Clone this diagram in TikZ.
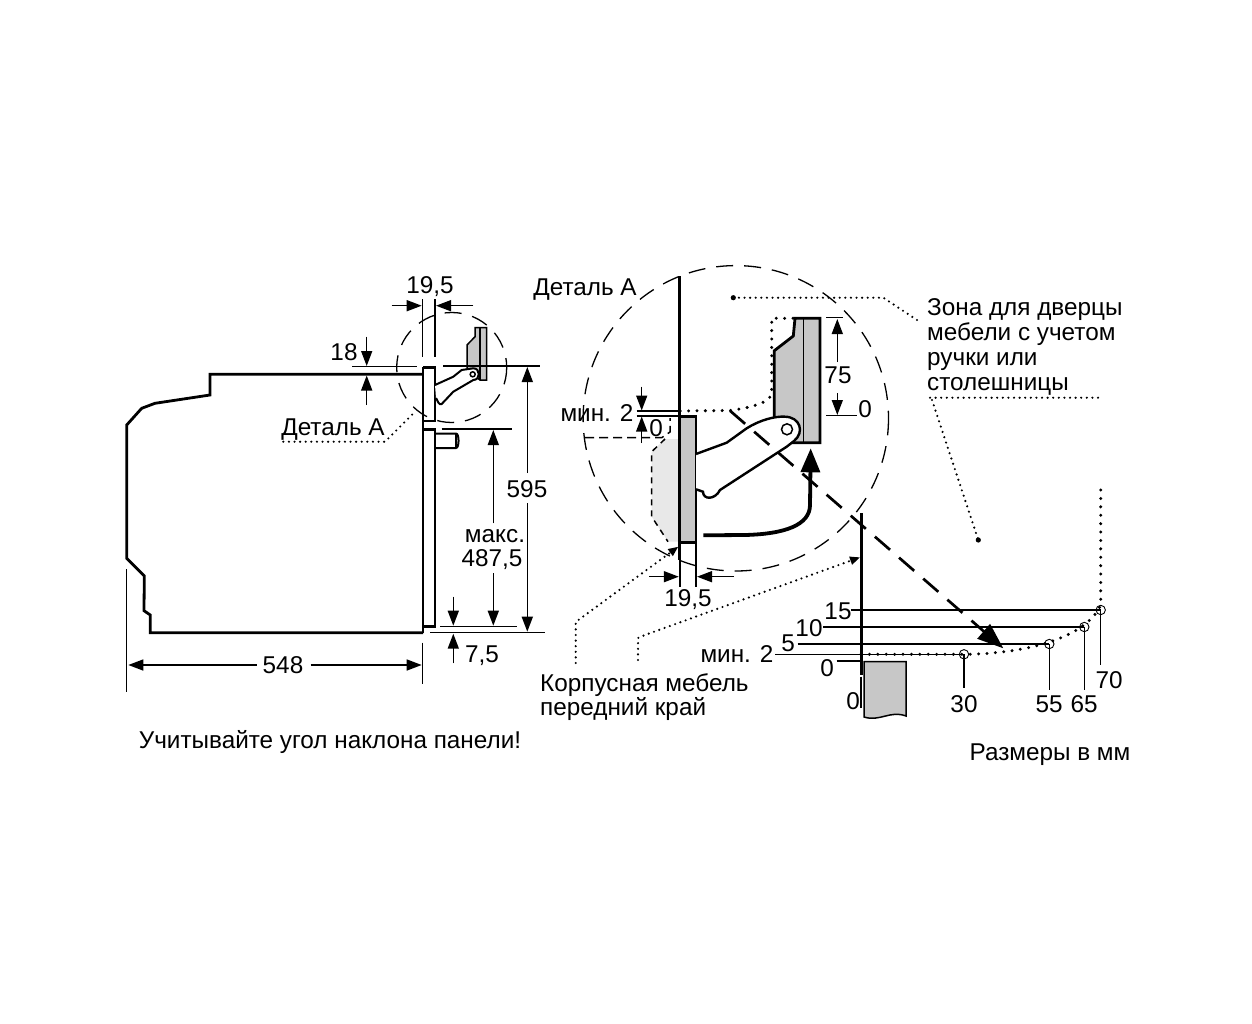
\documentclass[tikz,border=0pt]{standalone}
\usepackage{fontspec}
\setmainfont{Liberation Sans}
\usetikzlibrary{arrows.meta}
\begin{document}
\begin{tikzpicture}[
	x=1pt,
	y=-1pt,
	font=\fontsize{24.3}{28}\selectfont
]
\tikzset{
    lbl/.style = {inner sep=0pt, align=center},
    lblb/.style = {inner sep=0pt, anchor=base},
    lbll/.style = {inner sep=0pt, anchor=base west},
    thinl/.style = {line width=1.5pt},
    thickl/.style = {line width=2.8pt, line join=miter},
    dim/.style = {line width=1.5pt, -{Triangle[length=15pt,width=11pt]}},
    circa/.style = {line width=1.3pt, dash pattern=on 17pt off 11pt},
    dotl/.style = {line width=2.4pt, line cap=round, dash pattern=on 0pt off 5.6pt},
    dotb/.style = {line width=3.3pt, line cap=round, dash pattern=on 0pt off 8.4pt},
    dota/.style = {dotl, -{Triangle[length=10pt,width=8pt]}},
    blok/.style = {fill=black!22, draw=black},
}
\useasboundingbox (0,0) rectangle (1252,1024);
%
\node[lblb] at (430,293.5) (t195a) {19,5};
\node[lbl] at (344,352) (t18) {18};
\node[lblb] at (333,435) (tdeta) {Деталь А};
\node[lbl] at (527,489) (t595) {595};
\node[lblb] at (495,542.3) (tmaks) {макс.};
\node[lblb] at (492,566.7) (t487) {487,5};
\node[lblb] at (482,662.3) (t75a) {7,5};
\node[lbl] at (283,665) (t548) {548};
\node[lblb] at (330,748.3) (tugol) {Учитывайте угол наклона панели!};
\node[lblb] at (585,295) (tdetb) {Деталь А};
\node[lblb] at (597,421) (tmin) {мин. 2};
\node[lbl] at (656,428) (t0a) {0};
\node[lbl] at (838,375) (t75) {75};
\node[lbl] at (865,409) (t0b) {0};
\node[lblb] at (688,606) (t195b) {19,5};
\node[lbll] at (927,315) (tzona) {Зона для дверцы};
\node[lbll] at (927,340) (tmeb) {мебели с учетом};
\node[lbll] at (927,365) (truch) {ручки или};
\node[lbll] at (927,390) (tstol) {столешницы};
\node[lbll] at (540,691) (tkorp) {Корпусная мебель};
\node[lbll] at (540,715) (tper) {передний край};
\node[lbl] at (838,611) (t15) {15};
\node[lbl] at (809,628) (t10) {10};
\node[lbl] at (788,643) (t5) {5};
\node[lblb] at (737,662.3) (tminb) {мин. 2};
\node[lbl] at (827,668) (t0c) {0};
\node[lbl] at (853,701) (t0d) {0};
\node[lbl] at (964,704) (t30) {30};
\node[lbl] at (1049,704) (t55) {55};
\node[lbl] at (1084,704) (t65) {65};
\node[lbl] at (1109,680) (t70) {70};
\node[lblb] at (1050,760) (trazm) {Размеры в мм};
%
% oven side view
\draw[thickl] (423,632.7) -- (150.3,632.7) -- (150.3,615) -- (144,610.7) -- (144.3,576)
    -- (126.7,558.3) -- (126.7,425) -- (141.7,408.3) -- (155,403.3) -- (210,395)
    -- (210,374.3) -- (423,374.3);
\draw[thickl] (423,367.3) -- (435,367.3) -- (435,421) -- (423,421);
\draw[thickl] (423,429.5) -- (435,429.5) -- (435,626.7) -- (423,626.7);
\draw[thinl] (423,367.3) -- (423,632.7);
\draw[line width=2pt] (435,433.5) -- (456,433.5) to[out=0,in=0,looseness=0.6] (456,448) -- (435,448);
\draw[thinl] (456,433.5) -- (456,448);
%
% small hinge
\draw[blok, thinl] (475,327.7) -- (486.7,327.7) -- (486.7,380) -- (480,380) -- (467,370)
    -- (467,345) -- (475,336.7) -- cycle;
\draw[thinl] (480,327.7) -- (480,380);
\draw[line width=2pt, fill=white] (435,385) -- (453.3,376.7) -- (461.7,370) -- (473.3,368.3)
    to[out=0,in=0,looseness=1.6] (473.3,380) -- (453.3,391.7) -- (441.7,404)
    to[out=210,in=-60] (436,398);
\draw[thinl, fill=white] (472.7,374.3) circle (2.5);
%
\draw[circa] (451.7,367.5) circle (55);
%
% dimensions left
\draw[thinl] (422.7,299.3) -- (422.7,356.7);
\draw[thinl] (435,299.3) -- (435,356.7);
\draw[dim] (391.7,305.7) -- (421.7,305.7);
\draw[dim] (473.3,305.7) -- (436,305.7);
\draw[dim] (366.7,336.7) -- (366.7,366);
\draw[dim] (366.7,405) -- (366.7,375.5);
\draw[thinl] (352.3,366.7) -- (416.7,366.7);
\draw[thinl] (443.3,366) -- (540,366);
\draw[dim] (527.3,473) -- (527.3,367);
\draw[dim] (527.3,503) -- (527.3,631.7);
\draw[dim] (493.3,523.3) -- (493.3,430);
\draw[dim] (493.3,573.3) -- (493.3,625.7);
\draw[thinl] (441.7,429) -- (511.7,429);
\draw[thinl] (440,626.7) -- (516.7,626.7);
\draw[thinl] (430,632.7) -- (545,632.7);
\draw[dim] (453.3,596.7) -- (453.3,625.7);
\draw[dim] (453.3,663.3) -- (453.3,633.7);
\draw[dim] (256.7,665) -- (128.3,665);
\draw[dim] (310.7,665) -- (421.7,665);
\draw[thinl] (126.7,569) -- (126.7,691.7);
\draw[thinl] (422.7,642.7) -- (422.7,684);
\draw[dotl] (283.3,441.7) -- (385,441.7) -- (415,411.7);
%
% detail A
\fill[black!9] (665,439) -- (651.7,451.7) -- (651.7,516.7) -- (668,541.7) -- (679,541.7) -- (679,439) -- cycle;
\draw[thinl, dash pattern=on 6pt off 5pt] (665,439) -- (651.7,451.7) -- (651.7,516.7) -- (668,541.7);
\draw[thinl, dash pattern=on 9pt off 5pt] (585,437.7) -- (661.7,437.7) -- (670,432) -- (670,418);
\draw[circa] (735.8,418.3) circle (152.7);
\draw[blok, thickl] (795,318.3) -- (820,318.3) -- (820,442.7) -- (790,442.7) -- (774.3,416.7)
    -- (774.3,350.7) -- (793.3,336) -- cycle;
\draw[thinl] (803.3,318.3) -- (803.3,442.7);
\draw[dotb] (793,318.3) -- (771.7,318.3) -- (771.7,393.3) .. controls (770,402) and (755,407) .. (730,410.5) -- (680,411);
\draw[blok, thickl] (679.3,416.7) rectangle (696,542.3);
\draw[line width=2.8pt] (679.3,276) -- (679.3,560);
\draw[line width=2.4pt, fill=white] (696,454) -- (726.7,442.7) -- (746.7,428.3)
    .. controls (760,420) and (775,416) .. (785,416.7)
    .. controls (800,417) and (805,432) .. (794,441) -- (786.7,446.7) -- (720,490)
    .. controls (715,500) and (703,500) .. (703,491.7) -- (696,489.3);
\draw[thinl, fill=white] (787,429.3) circle (5.5);
\draw[line width=3.8pt, -{Triangle[length=24pt,width=19pt]}] (703.3,535.3) -- (745,535)
    .. controls (785,534) and (810,525) .. (810,505) -- (810.7,448.3);
\draw[line width=2.7pt, dash pattern=on 20pt off 12pt] (730,410.7) -- (988,635);
\draw[line width=2.7pt, -{Triangle[length=26pt,width=19pt]}] (985,632.5) -- (1003.3,648.3);
\draw[thinl] (826,317.7) -- (842.7,317.7);
\draw[thinl] (826,415.7) -- (856.7,415.7);
\draw[dim] (837.3,362) -- (837.3,319);
\draw[dim] (837.3,393) -- (837.3,415);
\draw[thinl] (636.7,411) -- (679,411);
\draw[thinl] (636.7,416) -- (679,416);
\draw[dim] (641.7,386.7) -- (641.7,410.5);
\draw[dim] (641.7,443) -- (641.7,416.5);
\draw[thinl] (680,543) -- (680,586.7);
\draw[thinl] (696,543) -- (696,586.7);
\draw[dim] (649.3,576.7) -- (678.8,576.7);
\draw[dim] (734,576.7) -- (697,576.7);
\fill (733.3,297.7) circle (2.6);
\draw[dotl] (733.3,297.7) -- (883.3,297.7) -- (917,320);
\draw[dota] (575.7,663) -- (575.7,622) -- (678.3,546.7);
\draw[dota] (638,660) -- (638,638) -- (645,635) -- (860,557.3);
%
% right part
\draw[dotl] (930,397.7) -- (1100,397.7);
\draw[dotl] (932,400) -- (978.3,540);
\fill (978.3,540) circle (2.6);
\draw[blok, thinl] (864,661.7) -- (906,661.7) -- (906,716) .. controls (890,710) and (880,722) .. (864,717) -- cycle;
\draw[line width=2.8pt] (861.3,513.3) -- (861.3,675);
\draw[thinl] (861,676.7) -- (861,708);
\draw[thinl] (851,610) -- (1100.7,610);
\draw[thinl] (823.3,627) -- (1084.3,627);
\draw[thinl] (797.7,644) -- (1049.3,644);
\draw[thinl] (775,654.3) -- (963.3,654.3);
\draw[thinl] (836.7,661) -- (861.3,661);
\draw[thinl] (964,654.3) -- (964,688.3);
\draw[thinl] (1049.3,644) -- (1049.3,690);
\draw[thinl] (1084.3,627) -- (1084.3,690);
\draw[thinl] (1100.7,610) -- (1100.7,665);
\draw[dotb] (861,654.3) -- (964,654.3) .. controls (1020,654) and (1085,640) .. (1100.7,605) -- (1100.7,487);
\draw[line width=0.9pt] (964,654.3) circle (4.7);
\draw[line width=0.9pt] (1049.3,644) circle (4.7);
\draw[line width=0.9pt] (1084.3,627) circle (4.7);
\draw[line width=0.9pt] (1100.7,610) circle (4.7);
\end{tikzpicture}
\end{document}
